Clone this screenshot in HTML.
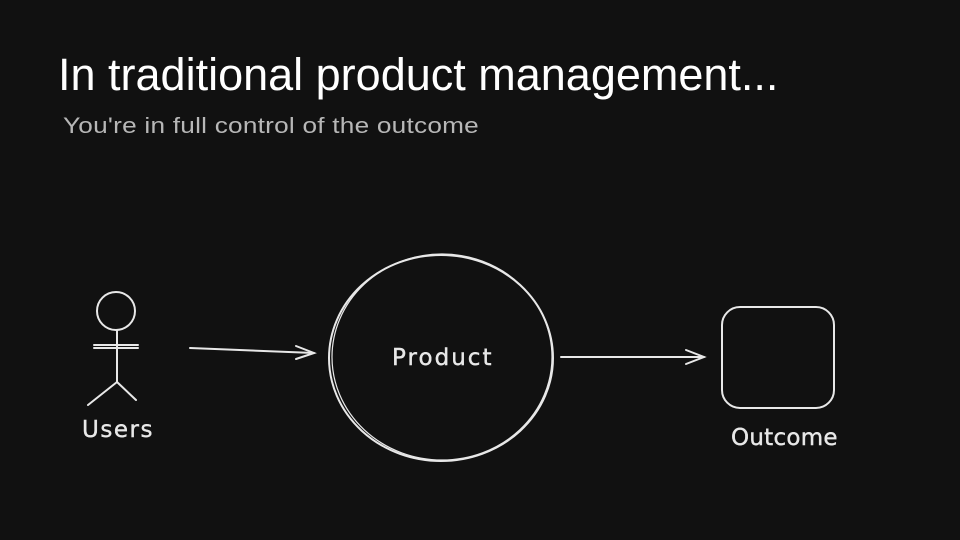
<!DOCTYPE html>
<html><head><style>
body{margin:0;background:#111111;width:960px;height:540px;overflow:hidden;font-family:"Liberation Sans",sans-serif}
.t{position:absolute;left:58px;top:49px;color:#fff;font-size:45px;white-space:nowrap}
.s{position:absolute;left:63px;top:113px;color:#b7b7b7;font-size:22px;white-space:nowrap;letter-spacing:0.2px;transform:scaleX(1.19);transform-origin:left}
</style></head><body>
<div class="t">In traditional product management...</div>
<div class="s">You're in full control of the outcome</div>
<svg width="960" height="540" style="position:absolute;left:0;top:0" fill="none" stroke="#e8e8e8" stroke-width="2" stroke-linecap="round">
<ellipse cx="116" cy="311" rx="19" ry="19"/>
<line x1="94" y1="345" x2="138" y2="345"/><line x1="94" y1="348" x2="138" y2="348"/>
<line x1="117" y1="330" x2="117" y2="382"/>
<line x1="117" y1="382" x2="88" y2="405"/><line x1="117" y1="382" x2="136" y2="400"/>
<line x1="190" y1="348" x2="314" y2="353"/><polyline points="296,346 314,353 296,359"/>
<ellipse cx="441" cy="358" rx="112" ry="103"/>
<ellipse cx="442" cy="357" rx="110" ry="103" stroke-width="1.2"/>
<line x1="561" y1="357" x2="704" y2="357"/><polyline points="686,350 704,357 686,364"/>
<rect x="722" y="307" width="112" height="101" rx="18"/>
<g fill="#e8e8e8" stroke="#e8e8e8" stroke-width="0.4" font-family="'DejaVu Sans',sans-serif" font-size="23" letter-spacing="1.5">
<text x="392" y="365" textLength="101">Product</text>
<text x="82" y="437" textLength="72">Users</text>
<text x="731" y="445" textLength="108">Outcome</text>
</g>
</svg>
</body></html>
